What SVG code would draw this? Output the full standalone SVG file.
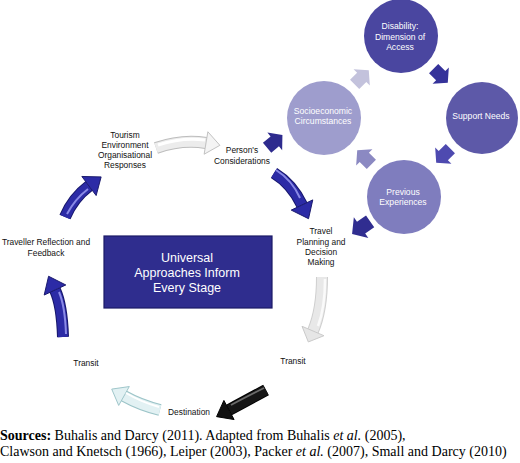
<svg xmlns="http://www.w3.org/2000/svg" width="520" height="463" viewBox="0 0 520 463">
<style>
.lbl{font-family:"Liberation Sans",Arial,sans-serif;font-size:8.4px;fill:#111;text-anchor:middle}
.clbl{font-family:"Liberation Sans",Arial,sans-serif;font-size:8.6px;fill:#fff;text-anchor:middle}
.box{font-family:"Liberation Sans",Arial,sans-serif;font-size:12.5px;fill:#fff;text-anchor:middle}
.src{font-family:"Liberation Serif","Times New Roman",serif;font-size:14px;fill:#000}
.body{fill:none;stroke-linecap:butt}
</style>
<defs>
<path id="blk" d="M-9,-6.5 L1,-6.5 L1,-11.5 L11,0 L1,11.5 L1,6.5 L-9,6.5 Z"/>
<marker id="hBlue" markerUnits="userSpaceOnUse" markerWidth="20" markerHeight="26" viewBox="-1 -12 17 24" refX="0" refY="0" orient="auto">
<path d="M0,-11 L14,0 L0,11 Z" fill="#2c2ba6" stroke="#17176a" stroke-width="0.8"/>
</marker>
<marker id="hWhite" markerUnits="userSpaceOnUse" markerWidth="20" markerHeight="26" viewBox="-1 -12 17 24" refX="0" refY="0" orient="auto">
<path d="M0,-10.5 L13,0 L0,10.5 Z" fill="#f4f4f4" stroke="#bdbdbd" stroke-width="0.8"/>
</marker>
<marker id="hGray" markerUnits="userSpaceOnUse" markerWidth="20" markerHeight="26" viewBox="-1 -12 17 24" refX="0" refY="0" orient="auto">
<path d="M0,-11 L11,0 L0,11 Z" fill="#e6e6e6" stroke="#c8c8c8" stroke-width="0.8"/>
</marker>
<marker id="hBlack" markerUnits="userSpaceOnUse" markerWidth="20" markerHeight="26" viewBox="-1 -12 17 24" refX="0" refY="0" orient="auto">
<path d="M0,-10 L13,0 L0,10 Z" fill="#111" stroke="#000" stroke-width="0.8"/>
</marker>
<marker id="hCyan" markerUnits="userSpaceOnUse" markerWidth="20" markerHeight="26" viewBox="-1 -12 17 24" refX="0" refY="0" orient="auto">
<path d="M0,-10 L13,0 L0,10 Z" fill="#e2f1f3" stroke="#9cc4c8" stroke-width="0.8"/>
</marker>
</defs>
<rect width="520" height="463" fill="#fff"/>

<g id="connectors">
<!-- Tourism -> Person's (white) -->
<path class="body" d="M156,148 Q182,139 206,143" stroke="#bdbdbd" stroke-width="12"/>
<path class="body" d="M156,148 Q182,139 206,143" stroke="#ececec" stroke-width="10" marker-end="url(#hWhite)"/>
<path class="body" d="M158,145 Q182,137 205,140" stroke="#fff" stroke-width="3"/>
<!-- Person's -> Socioeconomic -->
<use href="#blk" transform="translate(274,142) rotate(-40)" fill="#2e2b8e"/>
<!-- Person's -> Travel Planning (blue) -->
<path class="body" d="M274,173 Q292,184 302,205" stroke="#17176a" stroke-width="12"/>
<path class="body" d="M274,173 Q292,184 302,205" stroke="#2c2ba6" stroke-width="10" marker-end="url(#hBlue)"/>
<path class="body" d="M276,170 Q292,180 300,198" stroke="#8a8ae6" stroke-width="2"/>
<!-- Previous -> Travel Planning -->
<use href="#blk" transform="translate(362,227) rotate(145) scale(1.1)" fill="#302d90"/>
<!-- Travel Planning -> Transit (gray) -->
<path class="body" d="M322,277 Q322,310 313,331" stroke="#cfcfcf" stroke-width="12"/>
<path class="body" d="M322,277 Q322,310 313,331" stroke="#e8e8e8" stroke-width="10" marker-end="url(#hGray)"/>
<path class="body" d="M325,279 Q325,308 318,326" stroke="#fafafa" stroke-width="2.5"/>
<!-- Transit -> Destination (black) -->
<path class="body" d="M266,390 Q244,402 229,410" stroke="#000" stroke-width="12"/>
<path class="body" d="M266,390 Q244,402 229,410" stroke="#161616" stroke-width="10" marker-end="url(#hBlack)"/>
<path class="body" d="M264,388 Q244,398 231,405" stroke="#6a6a6a" stroke-width="1.8"/>
<!-- Destination -> Transit (cyan) -->
<path class="body" d="M160,410 Q140,405 124,396" stroke="#9cc4c8" stroke-width="12"/>
<path class="body" d="M160,410 Q140,405 124,396" stroke="#e2f1f3" stroke-width="10" marker-end="url(#hCyan)"/>
<path class="body" d="M159,407 Q141,402 126,393" stroke="#fff" stroke-width="2"/>
<!-- Transit -> Traveller Reflection (blue) -->
<path class="body" d="M63,337 Q62,305 55,290" stroke="#17176a" stroke-width="12"/>
<path class="body" d="M63,337 Q62,305 55,290" stroke="#2c2ba6" stroke-width="10" marker-end="url(#hBlue)"/>
<path class="body" d="M66,334 Q65,306 59,292" stroke="#8a8ae6" stroke-width="2"/>
<!-- Traveller Reflection -> Tourism (blue) -->
<path class="body" d="M65,217 Q73,198 89,186" stroke="#17176a" stroke-width="12"/>
<path class="body" d="M65,217 Q73,198 89,186" stroke="#2c2ba6" stroke-width="10" marker-end="url(#hBlue)"/>
<path class="body" d="M67,214 Q75,199 88,189" stroke="#8a8ae6" stroke-width="2"/>
<!-- cycle arrows -->
<use href="#blk" transform="translate(361,78) rotate(-45)" fill="#c3c2dc"/>
<use href="#blk" transform="translate(440,75) rotate(45)" fill="#35329a"/>
<use href="#blk" transform="translate(444,155) rotate(135)" fill="#4e4ab0"/>
<use href="#blk" transform="translate(365,158) rotate(-135)" fill="#8b89c2"/>
</g>

<g id="universal">
<rect x="104" y="236" width="168" height="72" fill="#2f2d8e" stroke="#1c1a66" stroke-width="1.2"/>
<text class="box" x="187" y="262">Universal</text>
<text class="box" x="187" y="277">Approaches Inform</text>
<text class="box" x="187" y="292">Every Stage</text>
</g>

<g id="disability">
<circle cx="401" cy="36" r="37" fill="#4a46a0"/>
<text class="clbl" x="400" y="29">Disability:</text>
<text class="clbl" x="400" y="40">Dimension of</text>
<text class="clbl" x="400" y="50">Access</text>
</g>
<g id="support-needs">
<circle cx="482" cy="118" r="36" fill="#5d59a8"/>
<text class="clbl" x="481" y="119">Support Needs</text>
</g>
<g id="socioeconomic">
<circle cx="324" cy="118" r="37" fill="#9e9dcd"/>
<text class="clbl" x="323" y="114">Socioeconomic</text>
<text class="clbl" x="323" y="124">Circumstances</text>
</g>
<g id="previous-experiences">
<circle cx="404" cy="197" r="37" fill="#7f7dbe"/>
<text class="clbl" x="403" y="195">Previous</text>
<text class="clbl" x="403" y="205">Experiences</text>
</g>

<g id="tourism">
<text class="lbl" x="125" y="138">Tourism</text>
<text class="lbl" x="125" y="148">Environment</text>
<text class="lbl" x="125" y="158">Organisational</text>
<text class="lbl" x="125" y="168">Responses</text>
</g>
<g id="persons">
<text class="lbl" x="242" y="153">Person's</text>
<text class="lbl" x="242" y="164">Considerations</text>
</g>
<g id="travel-planning">
<text class="lbl" x="321" y="234">Travel</text>
<text class="lbl" x="321" y="245">Planning and</text>
<text class="lbl" x="321" y="255">Decision</text>
<text class="lbl" x="321" y="265">Making</text>
</g>
<g id="transit-right">
<text class="lbl" x="293" y="364">Transit</text>
</g>
<g id="destination">
<text class="lbl" x="189" y="415">Destination</text>
</g>
<g id="transit-left">
<text class="lbl" x="86" y="366">Transit</text>
</g>
<g id="traveller-reflection">
<text class="lbl" x="46" y="245">Traveller Reflection and</text>
<text class="lbl" x="46" y="256">Feedback</text>
</g>

<g id="sources">
<text class="src" x="0" y="440"><tspan font-weight="bold">Sources:</tspan> Buhalis and Darcy (2011). Adapted from Buhalis <tspan font-style="italic">et al.</tspan> (2005),</text>
<text class="src" x="0" y="456">Clawson and Knetsch (1966), Leiper (2003), Packer <tspan font-style="italic">et al.</tspan> (2007), Small and Darcy (2010)</text>
</g>
</svg>
